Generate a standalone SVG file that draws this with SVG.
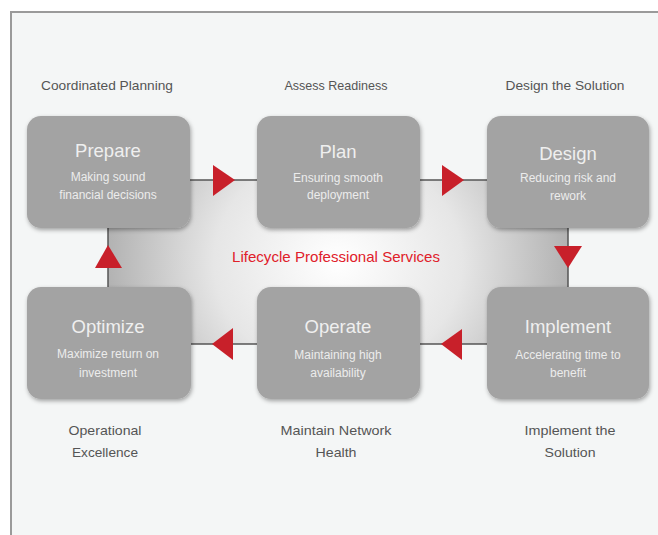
<svg xmlns="http://www.w3.org/2000/svg" width="658" height="535" viewBox="0 0 658 535">
<defs>
<radialGradient id="cg" cx="0.5" cy="0.5" r="0.6" fx="0.5" fy="0.5" gradientTransform="translate(0.5 0.5) scale(1 2.5) translate(-0.5 -0.5)">
<stop offset="0" stop-color="#ffffff"/>
<stop offset="0.45" stop-color="#e6e6e6"/>
<stop offset="1" stop-color="#9c9c9c"/>
</radialGradient>
<filter id="sh" x="-10%" y="-10%" width="125%" height="130%">
<feDropShadow dx="1" dy="2" stdDeviation="2" flood-color="#000" flood-opacity="0.35"/>
</filter>
<style>
.box{fill:#a3a3a3;filter:url(#sh);}
.t{font-family:"Liberation Sans",Arial,sans-serif;font-size:18.5px;fill:#efefef;text-anchor:middle;}
.s{font-family:"Liberation Sans",Arial,sans-serif;font-size:12px;fill:#ececec;text-anchor:middle;}
.lbl{font-family:"Liberation Sans",Arial,sans-serif;font-size:13.5px;fill:#555;text-anchor:middle;}
.arr{fill:#c8202a;}
</style>
</defs>
<rect x="0" y="0" width="658" height="535" fill="#ffffff"/>
<rect x="11" y="12" width="660" height="540" fill="#f4f6f6" stroke="#9a9a9a" stroke-width="2"/>

<g id="center">
<rect x="108" y="180" width="460" height="164" fill="url(#cg)" stroke="#555" stroke-width="1.5"/>
<text x="336" y="262" font-family="Liberation Sans, Arial, sans-serif" font-size="15" fill="#e0202a" text-anchor="middle" textLength="208" lengthAdjust="spacingAndGlyphs">Lifecycle Professional Services</text>
</g>

<g id="connectors">
<polygon class="arr" points="213,165 213,196 235,180"/>
<polygon class="arr" points="442,165 442,196 464,180"/>
<polygon class="arr" points="554,246 582,246 568,268"/>
<polygon class="arr" points="462,329 462,360 441,344"/>
<polygon class="arr" points="233,328 233,360 212,344"/>
<polygon class="arr" points="95,268 122,268 108,245"/>
</g>

<g id="labels">
<text class="lbl" x="107" y="90" textLength="132" lengthAdjust="spacingAndGlyphs">Coordinated Planning</text>
<text class="lbl" x="336" y="90" textLength="103" lengthAdjust="spacingAndGlyphs">Assess Readiness</text>
<text class="lbl" x="565" y="90" textLength="119" lengthAdjust="spacingAndGlyphs">Design the Solution</text>
<text class="lbl" x="105" y="435" textLength="73" lengthAdjust="spacingAndGlyphs">Operational</text>
<text class="lbl" x="105" y="457" textLength="66" lengthAdjust="spacingAndGlyphs">Excellence</text>
<text class="lbl" x="336" y="435" textLength="111" lengthAdjust="spacingAndGlyphs">Maintain Network</text>
<text class="lbl" x="336" y="457" textLength="41" lengthAdjust="spacingAndGlyphs">Health</text>
<text class="lbl" x="570" y="435" textLength="91" lengthAdjust="spacingAndGlyphs">Implement the</text>
<text class="lbl" x="570" y="457" textLength="51" lengthAdjust="spacingAndGlyphs">Solution</text>
</g>

<g id="prepare">
<rect class="box" x="27" y="116" width="163" height="112" rx="14"/>
<text class="t" x="108" y="157">Prepare</text>
<text class="s" x="108" y="181">Making sound</text>
<text class="s" x="108" y="199">financial decisions</text>
</g>
<g id="plan">
<rect class="box" x="257" y="116" width="163" height="112" rx="14"/>
<text class="t" x="338" y="158">Plan</text>
<text class="s" x="338" y="182">Ensuring smooth</text>
<text class="s" x="338" y="199">deployment</text>
</g>
<g id="design">
<rect class="box" x="487" y="116" width="162" height="112" rx="14"/>
<text class="t" x="568" y="160">Design</text>
<text class="s" x="568" y="182">Reducing risk and</text>
<text class="s" x="568" y="200">rework</text>
</g>
<g id="optimize">
<rect class="box" x="27" y="287" width="164" height="112" rx="14"/>
<text class="t" x="108" y="333">Optimize</text>
<text class="s" x="108" y="358">Maximize return on</text>
<text class="s" x="108" y="377">investment</text>
</g>
<g id="operate">
<rect class="box" x="257" y="287" width="163" height="112" rx="14"/>
<text class="t" x="338" y="333">Operate</text>
<text class="s" x="338" y="359">Maintaining high</text>
<text class="s" x="338" y="377">availability</text>
</g>
<g id="implement">
<rect class="box" x="487" y="287" width="162" height="112" rx="14"/>
<text class="t" x="568" y="333">Implement</text>
<text class="s" x="568" y="359">Accelerating time to</text>
<text class="s" x="568" y="377">benefit</text>
</g>
</svg>
